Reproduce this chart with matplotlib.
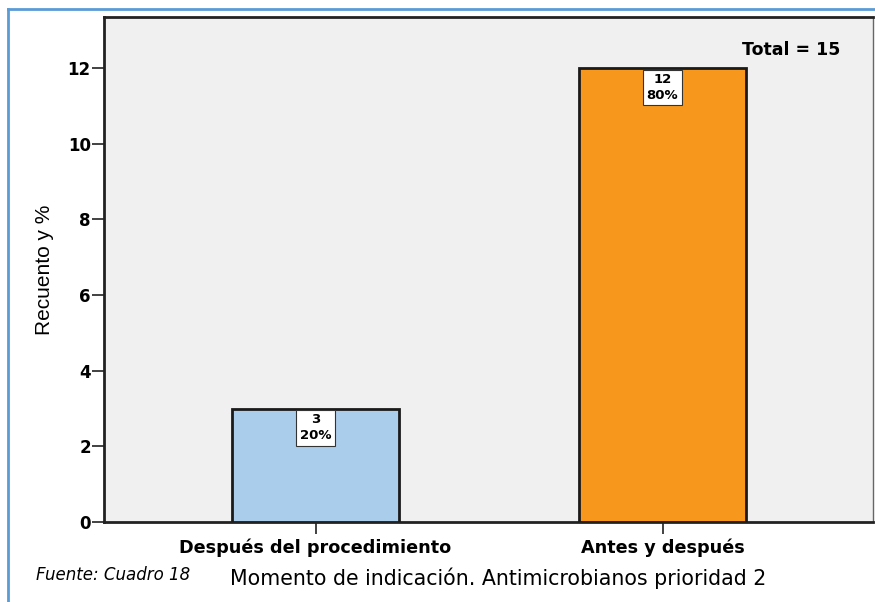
import matplotlib
matplotlib.use("Agg")
import matplotlib.pyplot as plt
from matplotlib.lines import Line2D

categories = ["Después del procedimiento", "Antes y después"]
counts = [3, 12]
percents = ["20%", "80%"]
total_label = "Total = 15"
colors = ["#abcdec", "#f7981d"]
yticks = [0, 2, 4, 6, 8, 10, 12]

plt.rcParams['font.family'] = ['DejaVu Sans']

fig = plt.figure(figsize=(8.75, 6.02), dpi=100)
W, H = 875, 602
ax = fig.add_axes([104 / W, 1 - 522 / H, (873 - 104) / W, (522 - 17) / H])
ax.set_facecolor("#f0f0f0")

x = list(range(len(categories)))
ax.bar(x, counts, width=0.481, color=colors, edgecolor="#1a1a1a", linewidth=2, zorder=3)
ax.set_xlim(-0.6095, 1.6066)
ax.set_ylim(0, 13.35)

for xi, c, p in zip(x, counts, percents):
    ax.annotate(f"{c}\n{p}", xy=(xi, c), xytext=(0, -3.5), textcoords="offset points",
                ha="center", va="top", fontsize=9.5, fontweight="bold", linespacing=1.3,
                bbox=dict(boxstyle="square,pad=0.25", fc="white", ec="#333333", lw=0.8), zorder=5)

ax.set_yticks(yticks)
ax.set_yticklabels([str(t) for t in yticks], fontsize=12, fontweight="bold")
ax.set_xticks(x)
ax.set_xticklabels(categories, fontsize=12.7, fontweight="bold")
ax.tick_params(axis="both", direction="out", length=8.5, width=1.3, color="#333333", pad=1)
ax.tick_params(axis="x", pad=3.5)

for s in ["left", "bottom", "top"]:
    ax.spines[s].set_linewidth(2)
    ax.spines[s].set_color("#222222")
ax.spines["right"].set_linewidth(1)
ax.spines["right"].set_color("#666666")

ax.set_ylabel("Recuento y %", fontsize=15, labelpad=10, family="Liberation Sans")

ax.text(0.957, 0.935, total_label, transform=ax.transAxes, ha="right", va="center",
        fontsize=12.5, fontweight="bold")

fig.text(498 / W, 1 - 578 / H, "Momento de indicación. Antimicrobianos prioridad 2",
         ha="center", va="center", fontsize=14.8)
fig.text(36 / W, 1 - 575 / H, "Fuente: Cuadro 18", ha="left", va="center",
         fontsize=12, style="italic")

# light blue frame
fig.add_artist(Line2D([8 / W, 8 / W], [0, 1 - 9 / H], transform=fig.transFigure,
                      color="#5b9bd5", lw=2))
fig.add_artist(Line2D([8 / W, 1], [1 - 9 / H, 1 - 9 / H], transform=fig.transFigure,
                      color="#5b9bd5", lw=2))

fig.savefig("out.png", dpi=100)
